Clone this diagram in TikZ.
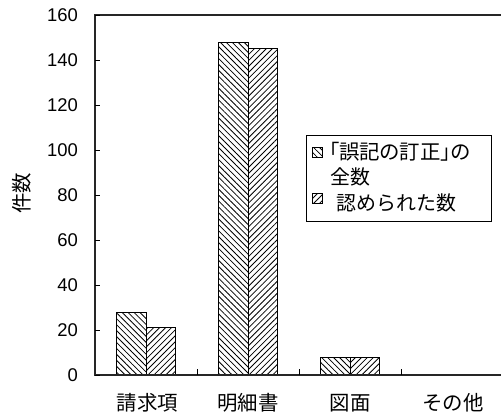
\documentclass[tikz,border=0pt]{standalone}
\usepackage{fontspec}
\setmainfont{Liberation Sans}
\newfontfamily\jp{Noto Sans CJK JP}
\newfontfamily\jpp[RawFeature=+palt]{Noto Sans CJK JP}
\usetikzlibrary{patterns.meta}
\begin{document}
\begin{tikzpicture}[x=1bp,y=-1bp,
  axisline/.style={line width=1.6bp, draw=black!85},
  barbox/.style={draw=black, line width=0.9bp},
  hatchA/.style={pattern={Lines[angle=-45,distance=4.2bp,line width=0.8bp]}},
  hatchB/.style={pattern={Lines[angle=45,distance=4.2bp,line width=0.8bp]}},
  ticklab/.style={anchor=east, font=\fontsize{18.5}{18.5}\selectfont, inner sep=0},
  catlab/.style={font=\jp\fontsize{20.5}{20.5}\selectfont, inner sep=0},
  leglab/.style={anchor=west, font=\jp\fontsize{20}{20}\selectfont, inner sep=0},
  legkey/.style={draw=black, line width=0.8bp, minimum size=10bp, inner sep=0},
]
\useasboundingbox (0,0) rectangle (501,416);
% frame
\coordinate (tl) at (95,15);
\coordinate (bl) at (95,375);
\coordinate (tr) at (501,15);
\coordinate (br) at (501,375);
% bars
\foreach \c/\a/\b in {146/28/21, 248/148/145, 350/8/8}{
  \draw[barbox,hatchA] (\c-29.5,375) rectangle (\c,375-2.25*\a);
  \draw[barbox,hatchB] (\c,375) rectangle (\c+29.5,375-2.25*\b);
}
\draw[axisline] (tr) -- (tl) -- (bl) -- (br);
% y ticks
\foreach \v in {0,20,...,160}{
  \draw[line width=1bp] (95,375-2.25*\v) -- (100,375-2.25*\v);
  \node[ticklab] (yl\v) at (78,375-2.25*\v) {\v};
}
% x ticks
\foreach \x in {197,299,401}{
  \draw[line width=1bp] (\x,375) -- (\x,369);
}
% category labels
\node[catlab] (c1) at (147.5,403) {請求項};
\node[catlab] (c2) at (248,403) {明細書};
\node[catlab] (c3) at (350,403) {図面};
\node[catlab] (c4) at (453,403) {その他};
% y label
\node[catlab, rotate=90] (ylab) at (22,193) {件数};
% legend
\node[draw=black, line width=0.8bp, minimum width=185bp, minimum height=86.5bp, inner sep=0] (legend) at (399,178.5) {};
\node[legkey,hatchA] (k1) at (317,152) {};
\node[legkey,hatchB] (k2) at (317,198.5) {};
\node[leglab, font=\jpp\fontsize{20.5}{20.5}\selectfont] (l1) at (329,152) {「誤記の訂正」の};
\node[leglab] (l2) at (330.5,177) {全数};
\node[leglab] (l3) at (336.5,203) {認められた数};
\end{tikzpicture}
\end{document}
